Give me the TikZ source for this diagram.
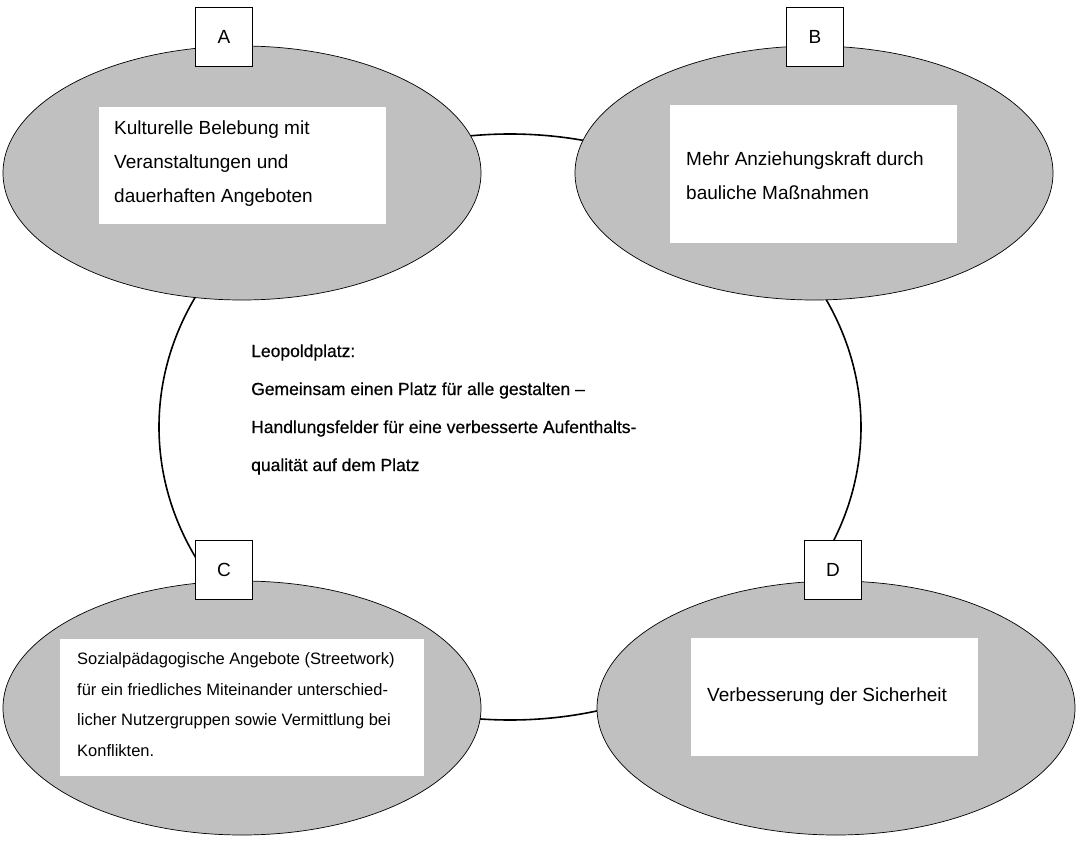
\documentclass[tikz,border=0pt]{standalone}
\usepackage{fontspec}
\setmainfont{Liberation Sans}
\newfontfamily\titlefont[FakeBold=0.5,Ligatures=TeX]{Liberation Sans}
\usetikzlibrary{shapes.geometric}
\definecolor{ovalgray}{HTML}{C0C0C0}
\begin{document}
\begin{tikzpicture}[x=1pt,y=-1pt,
 ring/.style={ellipse, draw=black, line width=1.6pt, inner sep=0pt, minimum width=702pt, minimum height=586pt},
 oval/.style={ellipse, draw=black, line width=0.7pt, fill=ovalgray, inner sep=0pt, minimum width=478pt, minimum height=254pt},
 whitebox/.style={rectangle, fill=white, inner sep=0pt, anchor=north west},
 letterbox/.style={rectangle, draw=black, line width=0.8pt, fill=white, inner sep=0pt, minimum width=57pt, minimum height=59pt, anchor=north west, font=\fontsize{19}{19}\selectfont},
 txt/.style={anchor=west, align=left, inner sep=0pt, font=\fontsize{19}{34}\selectfont},
 smalltxt/.style={txt, font=\fontsize{16.5}{30.5}\selectfont},
 titletxt/.style={txt, font=\titlefont\fontsize{17.5}{38}\selectfont},
]
\useasboundingbox (0,0) rectangle (1079,842);
% ring behind everything
\node[ring] (ring) at (510,427) {};
% ovals
\node[oval] (ovA) at (242,173) {};
\node[oval] (ovB) at (814,173) {};
\node[oval] (ovC) at (242,708) {};
\node[oval] (ovD) at (836,708) {};
% white text boxes
\node[whitebox, minimum width=287pt, minimum height=117pt] (boxA) at (99,107) {};
\node[whitebox, minimum width=287pt, minimum height=138pt] (boxB) at (670,105) {};
\node[whitebox, minimum width=364pt, minimum height=137pt] (boxC) at (60,639) {};
\node[whitebox, minimum width=287pt, minimum height=118pt] (boxD) at (691,638) {};
% texts
\node[txt] (tA) at ([xshift=15pt,yshift=2pt]boxA.west) {Kulturelle Belebung mit\\Veranstaltungen und\\dauerhaften Angeboten};
\node[txt] (tB) at ([xshift=16pt,yshift=-2pt]boxB.west) {Mehr Anziehungskraft durch\\bauliche Maßnahmen};
\node[smalltxt] (tC) at ([xshift=17pt,yshift=3pt]boxC.west) {Sozialpädagogische Angebote (Streetwork)\\für ein friedliches Miteinander unterschied-\\licher Nutzergruppen sowie Vermittlung bei\\Konflikten.};
\node[txt] (tD) at ([xshift=16pt,yshift=1pt]boxD.west) {Verbesserung der Sicherheit};
\node[titletxt] (title) at (251,409.5) {Leopoldplatz:\\Gemeinsam einen Platz für alle gestalten –\\Handlungsfelder für eine verbesserte Aufenthalts-\\qualität auf dem Platz};
% letter boxes
\node[letterbox] (lA) at (195,7) {A};
\node[letterbox] (lB) at (786,7) {B};
\node[letterbox] (lC) at (195,540) {C};
\node[letterbox] (lD) at (804,540) {D};
\end{tikzpicture}
\end{document}
